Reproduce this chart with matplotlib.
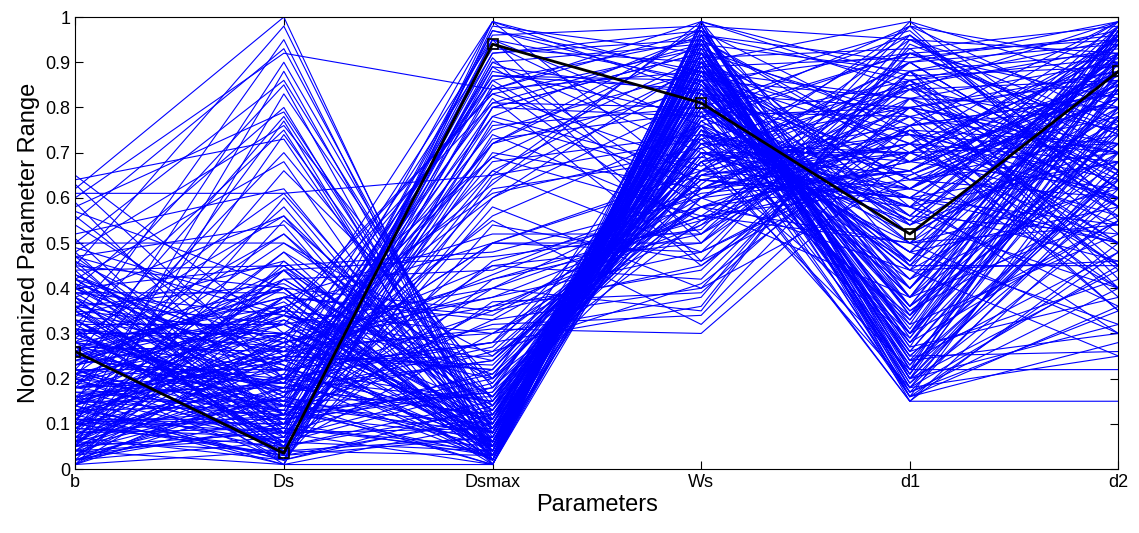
#!/usr/bin/env python3

import matplotlib
matplotlib.use("Agg")
import matplotlib.pyplot as plt
import numpy as np

params = ["b", "Ds", "Dsmax", "Ws", "d1", "d2"]

# highlighted design (black line)
best = [0.26, 0.035, 0.94, 0.81, 0.52, 0.88]

# Ds high, Dsmax low
group_ds_high = [
    [0.62, 1.00, 0.02, 0.85, 0.30, 0.75],
    [0.45, 0.98, 0.05, 0.92, 0.22, 0.60],
    [0.30, 0.95, 0.03, 0.78, 0.55, 0.90],
    [0.55, 0.93, 0.08, 0.95, 0.18, 0.45],
    [0.20, 0.90, 0.10, 0.70, 0.65, 0.82],
    [0.60, 0.92, 0.84, 0.97, 0.40, 0.95],
    [0.10, 0.88, 0.06, 0.88, 0.35, 0.70],
    [0.50, 0.86, 0.12, 0.80, 0.28, 0.55],
    [0.35, 0.85, 0.02, 0.99, 0.45, 0.98],
    [0.05, 0.83, 0.15, 0.65, 0.72, 0.40],
    [0.40, 0.80, 0.04, 0.90, 0.20, 0.85],
    [0.58, 0.79, 0.09, 0.75, 0.60, 0.30],
    [0.25, 0.78, 0.07, 0.93, 0.25, 0.65],
    [0.15, 0.77, 0.01, 0.82, 0.50, 0.92],
    [0.48, 0.76, 0.18, 0.60, 0.80, 0.50],
    [0.32, 0.75, 0.03, 0.96, 0.17, 0.35],
    [0.08, 0.74, 0.11, 0.72, 0.42, 0.78],
    [0.64, 0.73, 0.05, 0.86, 0.33, 0.88],
    [0.22, 0.70, 0.14, 0.68, 0.90, 0.62],
    [0.42, 0.68, 0.02, 0.91, 0.27, 0.97],
    [0.12, 0.66, 0.20, 0.55, 0.75, 0.45],
    [0.52, 0.62, 0.06, 0.84, 0.38, 0.72],
    [0.28, 0.61, 0.09, 0.77, 0.48, 0.58],
    [0.61, 0.61, 0.65, 0.73, 0.85, 0.93],
    [0.18, 0.58, 0.04, 0.98, 0.21, 0.80],
    [0.38, 0.56, 0.12, 0.70, 0.58, 0.36],
    [0.05, 0.55, 0.16, 0.63, 0.95, 0.70],
    [0.47, 0.54, 0.01, 0.89, 0.30, 0.96],
    [0.26, 0.52, 0.08, 0.81, 0.44, 0.25],
    [0.50, 0.50, 0.25, 0.58, 0.68, 0.85],
    [0.14, 0.48, 0.05, 0.94, 0.19, 0.55],
    [0.34, 0.46, 0.10, 0.74, 0.62, 0.90],
    [0.44, 0.45, 0.13, 0.66, 0.88, 0.42],
    [0.02, 0.44, 0.03, 0.87, 0.36, 0.68],
]

# Ds low, Dsmax high
group_dsmax_high = [
    [0.10, 0.03, 0.99, 0.62, 0.70, 0.95],
    [0.35, 0.05, 0.97, 0.85, 0.45, 0.80],
    [0.20, 0.02, 0.95, 0.50, 0.82, 0.60],
    [0.05, 0.08, 0.92, 0.95, 0.30, 0.88],
    [0.45, 0.10, 0.90, 0.70, 0.55, 0.40],
    [0.15, 0.04, 0.88, 0.78, 0.92, 0.75],
    [0.30, 0.12, 0.86, 0.58, 0.38, 0.98],
    [0.02, 0.06, 0.84, 0.88, 0.62, 0.50],
    [0.40, 0.15, 0.82, 0.45, 0.76, 0.83],
    [0.12, 0.01, 0.80, 0.92, 0.25, 0.66],
    [0.25, 0.18, 0.78, 0.66, 0.98, 0.90],
    [0.08, 0.09, 0.76, 0.80, 0.48, 0.32],
    [0.38, 0.03, 0.74, 0.55, 0.66, 0.94],
    [0.18, 0.20, 0.72, 0.97, 0.34, 0.72],
    [0.48, 0.07, 0.70, 0.62, 0.85, 0.58],
    [0.03, 0.14, 0.68, 0.74, 0.58, 0.99],
    [0.28, 0.22, 0.66, 0.48, 0.72, 0.45],
    [0.14, 0.02, 0.64, 0.86, 0.40, 0.86],
    [0.33, 0.11, 0.62, 0.69, 0.96, 0.62],
    [0.06, 0.25, 0.60, 0.90, 0.52, 0.77],
    [0.22, 0.05, 0.58, 0.40, 0.88, 0.92],
    [0.42, 0.16, 0.56, 0.76, 0.32, 0.52],
    [0.09, 0.28, 0.99, 0.83, 0.68, 0.84],
    [0.36, 0.08, 0.94, 0.72, 0.80, 0.70],
    [0.17, 0.13, 0.89, 0.60, 0.44, 0.97],
    [0.01, 0.04, 0.85, 0.52, 0.93, 0.65],
    [0.27, 0.19, 0.81, 0.94, 0.24, 0.48],
    [0.44, 0.02, 0.77, 0.64, 0.60, 0.91],
    [0.11, 0.10, 0.73, 0.79, 0.78, 0.38],
    [0.31, 0.24, 0.69, 0.56, 0.50, 0.79],
    [0.04, 0.07, 0.65, 0.98, 0.36, 0.95],
    [0.21, 0.30, 0.61, 0.71, 0.84, 0.56],
    [0.39, 0.12, 0.97, 0.88, 0.64, 0.74],
    [0.13, 0.06, 0.91, 0.46, 0.70, 0.87],
    [0.56, 0.20, 0.87, 0.84, 0.42, 0.64],
    [0.24, 0.35, 0.83, 0.67, 0.90, 0.99],
]

# Dsmax high, Ws high, d1 high
group_top = [
    [0.08, 0.12, 0.96, 0.98, 0.95, 0.92],
    [0.18, 0.22, 0.93, 0.90, 0.99, 0.85],
    [0.28, 0.07, 0.90, 0.94, 0.88, 0.97],
    [0.38, 0.17, 0.87, 0.86, 0.92, 0.74],
    [0.03, 0.27, 0.84, 0.99, 0.84, 0.99],
    [0.13, 0.02, 0.98, 0.92, 0.78, 0.88],
    [0.23, 0.32, 0.81, 0.80, 0.96, 0.66],
    [0.33, 0.09, 0.78, 0.96, 0.90, 0.94],
    [0.43, 0.19, 0.75, 0.88, 0.82, 0.80],
    [0.06, 0.04, 0.72, 0.84, 0.97, 0.58],
    [0.16, 0.24, 0.95, 0.76, 0.86, 0.91],
    [0.26, 0.14, 0.92, 0.97, 0.74, 0.70],
    [0.36, 0.29, 0.69, 0.91, 0.93, 0.98],
    [0.46, 0.05, 0.89, 0.83, 0.80, 0.86],
    [0.01, 0.21, 0.86, 0.95, 0.68, 0.62],
    [0.11, 0.11, 0.66, 0.89, 0.91, 0.96],
    [0.21, 0.34, 0.83, 0.93, 0.76, 0.83],
    [0.31, 0.01, 0.80, 0.78, 0.98, 0.77],
    [0.41, 0.26, 0.63, 0.99, 0.87, 0.89],
    [0.04, 0.16, 0.99, 0.87, 0.72, 0.99],
]

# Dsmax low, Ws high
group_ws_high = [
    [0.05, 0.20, 0.02, 0.95, 0.20, 0.70],
    [0.15, 0.25, 0.05, 0.90, 0.28, 0.85],
    [0.25, 0.15, 0.01, 0.85, 0.35, 0.60],
    [0.35, 0.30, 0.08, 0.98, 0.22, 0.92],
    [0.10, 0.10, 0.03, 0.80, 0.45, 0.45],
    [0.20, 0.35, 0.10, 0.88, 0.16, 0.78],
    [0.30, 0.40, 0.04, 0.75, 0.52, 0.88],
    [0.40, 0.22, 0.06, 0.92, 0.30, 0.55],
    [0.02, 0.18, 0.12, 0.70, 0.62, 0.96],
    [0.12, 0.28, 0.02, 0.96, 0.18, 0.62],
    [0.22, 0.05, 0.15, 0.82, 0.40, 0.82],
    [0.32, 0.32, 0.07, 0.86, 0.26, 0.42],
    [0.42, 0.12, 0.18, 0.65, 0.70, 0.72],
    [0.07, 0.38, 0.03, 0.93, 0.34, 0.98],
    [0.17, 0.08, 0.09, 0.78, 0.56, 0.52],
    [0.27, 0.26, 0.22, 0.72, 0.46, 0.86],
    [0.37, 0.16, 0.05, 0.99, 0.20, 0.66],
    [0.47, 0.34, 0.11, 0.84, 0.38, 0.94],
    [0.03, 0.24, 0.25, 0.68, 0.74, 0.35],
    [0.13, 0.14, 0.01, 0.89, 0.24, 0.76],
    [0.23, 0.42, 0.14, 0.60, 0.66, 0.88],
    [0.33, 0.06, 0.04, 0.94, 0.15, 0.50],
    [0.43, 0.20, 0.28, 0.76, 0.58, 0.68],
    [0.08, 0.45, 0.06, 0.87, 0.42, 0.90],
    [0.18, 0.11, 0.17, 0.62, 0.80, 0.58],
    [0.28, 0.36, 0.02, 0.97, 0.29, 0.84],
    [0.38, 0.02, 0.12, 0.73, 0.50, 0.30],
    [0.01, 0.30, 0.08, 0.83, 0.36, 0.74],
    [0.11, 0.48, 0.20, 0.66, 0.86, 0.95],
    [0.21, 0.13, 0.03, 0.91, 0.23, 0.64],
    [0.31, 0.27, 0.30, 0.54, 0.76, 0.80],
    [0.41, 0.09, 0.05, 0.81, 0.44, 0.46],
    [0.06, 0.33, 0.13, 0.74, 0.54, 0.92],
    [0.16, 0.19, 0.35, 0.58, 0.64, 0.70],
    [0.26, 0.04, 0.07, 0.90, 0.32, 0.97],
    [0.36, 0.41, 0.16, 0.69, 0.60, 0.54],
    [0.46, 0.23, 0.02, 0.95, 0.26, 0.78],
    [0.09, 0.07, 0.19, 0.77, 0.48, 0.86],
    [0.19, 0.37, 0.04, 0.86, 0.17, 0.40],
    [0.29, 0.17, 0.24, 0.64, 0.72, 0.60],
    [0.04, 0.01, 0.10, 0.92, 0.38, 0.82],
    [0.14, 0.29, 0.01, 0.79, 0.21, 0.90],
]

# middle band
group_mid = [
    [0.02, 0.10, 0.20, 0.65, 0.60, 0.50],
    [0.06, 0.18, 0.12, 0.72, 0.68, 0.78],
    [0.09, 0.05, 0.30, 0.58, 0.75, 0.60],
    [0.12, 0.24, 0.08, 0.80, 0.55, 0.92],
    [0.15, 0.12, 0.40, 0.62, 0.82, 0.44],
    [0.18, 0.30, 0.05, 0.88, 0.62, 0.86],
    [0.21, 0.08, 0.22, 0.70, 0.70, 0.56],
    [0.24, 0.20, 0.15, 0.76, 0.48, 0.96],
    [0.27, 0.38, 0.34, 0.60, 0.78, 0.70],
    [0.30, 0.14, 0.10, 0.84, 0.64, 0.82],
    [0.33, 0.26, 0.45, 0.50, 0.88, 0.52],
    [0.36, 0.04, 0.03, 0.92, 0.56, 0.98],
    [0.39, 0.34, 0.26, 0.66, 0.74, 0.64],
    [0.01, 0.16, 0.06, 0.74, 0.66, 0.88],
    [0.04, 0.28, 0.38, 0.56, 0.86, 0.58],
    [0.07, 0.02, 0.14, 0.82, 0.52, 0.76],
    [0.10, 0.36, 0.02, 0.90, 0.72, 0.90],
    [0.13, 0.22, 0.28, 0.64, 0.58, 0.46],
    [0.16, 0.06, 0.18, 0.78, 0.80, 0.72],
    [0.19, 0.32, 0.09, 0.86, 0.46, 0.94],
    [0.22, 0.10, 0.36, 0.54, 0.90, 0.62],
    [0.25, 0.40, 0.04, 0.96, 0.54, 0.80],
    [0.28, 0.18, 0.24, 0.68, 0.76, 0.99],
    [0.31, 0.03, 0.11, 0.80, 0.60, 0.68],
    [0.34, 0.28, 0.42, 0.52, 0.84, 0.86],
    [0.37, 0.12, 0.07, 0.88, 0.50, 0.54],
    [0.05, 0.44, 0.16, 0.72, 0.70, 0.92],
    [0.08, 0.20, 0.50, 0.48, 0.92, 0.74],
    [0.11, 0.08, 0.01, 0.94, 0.58, 0.84],
    [0.14, 0.34, 0.21, 0.62, 0.66, 0.40],
]

# Dsmax mid, Ws low -> d1 high
group_d1_high = [
    [0.05, 0.25, 0.40, 0.35, 0.95, 0.80],
    [0.15, 0.15, 0.45, 0.42, 0.88, 0.65],
    [0.25, 0.35, 0.30, 0.38, 0.92, 0.95],
    [0.35, 0.10, 0.50, 0.50, 0.98, 0.55],
    [0.45, 0.40, 0.35, 0.45, 0.80, 0.88],
    [0.10, 0.20, 0.55, 0.32, 0.75, 0.72],
    [0.20, 0.05, 0.42, 0.55, 0.85, 0.40],
    [0.30, 0.30, 0.38, 0.48, 0.70, 0.92],
    [0.40, 0.45, 0.48, 0.60, 0.90, 0.62],
    [0.02, 0.12, 0.33, 0.40, 0.65, 0.85],
    [0.12, 0.38, 0.52, 0.52, 0.78, 0.50],
    [0.22, 0.22, 0.28, 0.36, 0.94, 0.76],
    [0.32, 0.08, 0.46, 0.58, 0.68, 0.98],
    [0.42, 0.28, 0.36, 0.44, 0.86, 0.45],
    [0.07, 0.42, 0.44, 0.62, 0.72, 0.68],
    [0.17, 0.18, 0.32, 0.34, 0.82, 0.90],
    [0.27, 0.02, 0.54, 0.46, 0.96, 0.58],
    [0.37, 0.32, 0.40, 0.56, 0.62, 0.82],
    [0.47, 0.14, 0.26, 0.41, 0.76, 0.35],
    [0.03, 0.36, 0.50, 0.65, 0.84, 0.75],
    [0.13, 0.26, 0.31, 0.30, 0.70, 0.94],
    [0.23, 0.44, 0.47, 0.53, 0.99, 0.66],
    [0.33, 0.06, 0.37, 0.39, 0.80, 0.48],
    [0.43, 0.24, 0.43, 0.61, 0.66, 0.87],
]

# Ws high -> d1 low
group_d1_low = [
    [0.03, 0.09, 0.04, 0.96, 0.16, 0.48],
    [0.07, 0.21, 0.11, 0.88, 0.19, 0.68],
    [0.11, 0.03, 0.07, 0.82, 0.23, 0.84],
    [0.15, 0.27, 0.02, 0.93, 0.27, 0.38],
    [0.19, 0.15, 0.16, 0.76, 0.15, 0.58],
    [0.23, 0.33, 0.06, 0.90, 0.31, 0.92],
    [0.27, 0.11, 0.21, 0.70, 0.18, 0.74],
    [0.31, 0.23, 0.03, 0.98, 0.24, 0.30],
    [0.35, 0.05, 0.13, 0.84, 0.21, 0.88],
    [0.39, 0.39, 0.09, 0.79, 0.17, 0.64],
    [0.02, 0.17, 0.27, 0.73, 0.33, 0.96],
    [0.06, 0.29, 0.05, 0.91, 0.20, 0.44],
    [0.10, 0.13, 0.17, 0.86, 0.26, 0.80],
    [0.14, 0.01, 0.01, 0.99, 0.22, 0.66],
    [0.18, 0.25, 0.23, 0.68, 0.29, 0.90],
    [0.22, 0.19, 0.08, 0.94, 0.16, 0.36],
    [0.20, 0.14, 0.08, 0.75, 0.15, 0.15],
    [0.10, 0.30, 0.20, 0.90, 0.18, 0.25],
    [0.30, 0.06, 0.60, 0.82, 0.16, 0.28],
    [0.40, 0.22, 0.15, 0.68, 0.22, 0.22],
    [0.05, 0.16, 0.72, 0.94, 0.20, 0.32],
    [0.15, 0.40, 0.05, 0.86, 0.25, 0.26],
]

# Ds mid peaks and b high
group_misc = [
    [0.04, 0.38, 0.06, 0.83, 0.54, 0.72],
    [0.09, 0.42, 0.14, 0.75, 0.40, 0.94],
    [0.14, 0.36, 0.03, 0.89, 0.64, 0.60],
    [0.19, 0.50, 0.19, 0.71, 0.34, 0.84],
    [0.24, 0.40, 0.08, 0.95, 0.70, 0.50],
    [0.29, 0.56, 0.02, 0.80, 0.46, 0.98],
    [0.01, 0.46, 0.11, 0.92, 0.28, 0.76],
    [0.06, 0.60, 0.05, 0.86, 0.82, 0.66],
    [0.11, 0.34, 0.24, 0.64, 0.60, 0.88],
    [0.16, 0.44, 0.01, 0.97, 0.38, 0.56],
    [0.21, 0.52, 0.13, 0.77, 0.92, 0.82],
    [0.26, 0.38, 0.33, 0.58, 0.50, 0.62],
    [0.65, 0.30, 0.10, 0.80, 0.44, 0.70],
    [0.63, 0.20, 0.50, 0.66, 0.62, 0.85],
    [0.59, 0.12, 0.80, 0.92, 0.36, 0.92],
    [0.57, 0.40, 0.04, 0.88, 0.74, 0.54],
    [0.54, 0.25, 0.22, 0.74, 0.30, 0.78],
    [0.51, 0.08, 0.95, 0.86, 0.56, 0.96],
    [0.49, 0.35, 0.06, 0.96, 0.86, 0.64],
]

fig = plt.figure(figsize=(11.39, 5.33), dpi=100)
ax = fig.add_axes([0.066, 0.12, 0.916, 0.848])
plt.rcParams['font.family'] = ['Liberation Sans', 'DejaVu Sans']

x = np.arange(1, len(params) + 1)
groups = [group_ds_high, group_dsmax_high, group_top, group_ws_high,
          group_mid, group_d1_high, group_d1_low, group_misc]
for group in groups:
    for row in group:
        ax.plot(x, row, color=(0, 0, 1), lw=0.8)
ax.plot(x, best, color="black", lw=2, marker="s", ms=7, mfc="none", mew=1.2)

ax.set_xlim(1, 6)
ax.set_ylim(0, 1)
ax.set_xticks(x)
ax.set_xticklabels(params, family="Liberation Sans")
ax.set_yticks(np.arange(0, 1.01, 0.1))
ax.set_yticklabels(["0"] + [f"{v:.1f}" for v in np.arange(0.1, 0.95, 0.1)] + ["1"],
                   family="Liberation Sans")
ax.tick_params(direction="in", top=True, right=True, labelsize=13, length=6)
ax.set_xlabel("Parameters", fontsize=17, family="Liberation Sans", labelpad=2)
ax.set_ylabel("Normanized Parameter Range", fontsize=17, family="Liberation Sans", labelpad=4)

fig.savefig("out.png", dpi=100)
